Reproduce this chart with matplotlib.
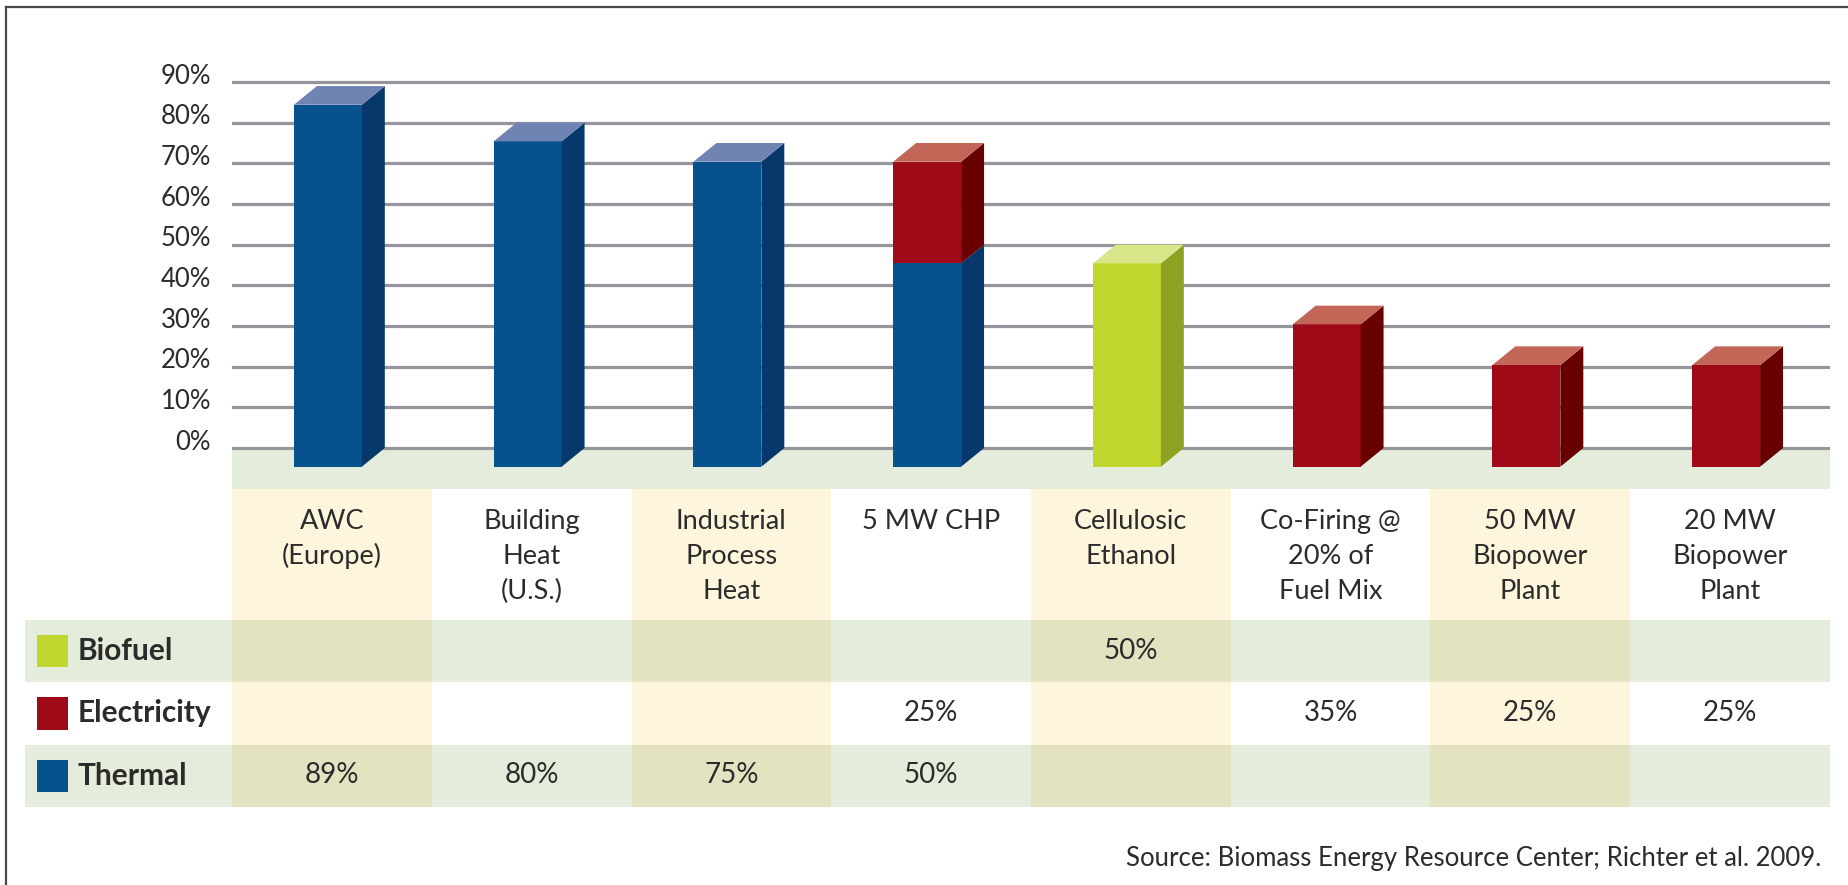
import matplotlib.pyplot as plt
from matplotlib.patches import Rectangle, Polygon

plt.rcParams['font.family'] = ['Lato', 'DejaVu Sans']

categories  = ['AWC\n(Europe)', 'Building\nHeat\n(U.S.)', 'Industrial\nProcess\nHeat', '5 MW CHP',
               'Cellulosic\nEthanol', 'Co-Firing @\n20% of\nFuel Mix', '50 MW\nBiopower\nPlant', '20 MW\nBiopower\nPlant']
thermal     = [89, 80, 75, 50, 0, 0, 0, 0]
electricity = [0, 0, 0, 25, 0, 35, 25, 25]
biofuel     = [0, 0, 0, 0, 50, 0, 0, 0]
yticks      = [0, 10, 20, 30, 40, 50, 60, 70, 80, 90]
source      = 'Source: Biomass Energy Resource Center; Richter et al. 2009.'

# colours: front, side, top
cores = {
    'Thermal'    : ('#07518f', '#07386b', '#7084b4'),
    'Electricity': ('#9e0a17', '#680000', '#c26757'),
    'Biofuel'    : ('#c1d62f', '#8da223', '#d9e589'),
}
series = [('Thermal', thermal), ('Electricity', electricity), ('Biofuel', biofuel)]

verde   = '#e4eddb'
amarelo = '#fdf5dc'
oliva   = '#e4e3c1'
texto   = '#2b2b2b'

W, H = 1849, 885
fig = plt.figure(figsize=(W/100, H/100), dpi=100, facecolor='white')

# ---------- bar chart ----------
px10 = (448 - 82) / 9.0          # pixels per 10 %
ytop = (448 - 60) / px10 * 10
ybot = (448 - 489) / px10 * 10
ax = fig.add_axes([232/W, 1 - 489/H, (1830-232)/W, (489-60)/H])
ax.set_xlim(-0.5, 7.5)
ax.set_ylim(ybot, ytop)
ax.axis('off')

for t in yticks:
    ax.axhline(t, color='#95959b', lw=2.3, zorder=1)
    ax.text(-0.013, t + 1.4, f'{t}%', transform=ax.get_yaxis_transform(),
            ha='right', va='center', fontsize=18.5, color=texto)
ax.axhspan(ybot, -0.3, color=verde, zorder=0.5, lw=0)

w, dx, dy = 0.34, 0.115, 4.6
for i in range(len(categories)):
    c = i - 0.02
    x0, x1 = c - w/2, c + w/2
    base = 0
    top_name = None
    for name, vals in series:
        v = vals[i]
        if v <= 0:
            continue
        front, side, _ = cores[name]
        ax.add_patch(Rectangle((x0, base - dy), w, v, facecolor=front, lw=0, zorder=3))
        ax.add_patch(Polygon([(x1, base - dy), (x1 + dx, base), (x1 + dx, base + v), (x1, base + v - dy)],
                             facecolor=side, lw=0, zorder=3))
        base += v
        top_name = name
    if top_name:
        ax.add_patch(Polygon([(x0, base - dy), (x1, base - dy), (x1 + dx, base), (x0 + dx, base)],
                             facecolor=cores[top_name][2], lw=0, zorder=3))

# ---------- table ----------
tb = fig.add_axes([25/W, 1 - 807/H, (1830-25)/W, (807-489)/H])
xleft = (25 - 232) / 199.75 - 0.5
tb.set_xlim(xleft, 7.5)
tb.set_ylim(5.1, 0)
tb.axis('off')

hh = 2.1   # header height in row units
linhas = [('Biofuel', biofuel, True), ('Electricity', electricity, False), ('Thermal', thermal, True)]

for j, cat in enumerate(categories):
    destaque = j % 2 == 0
    tb.add_patch(Rectangle((j - 0.5, 0), 1, hh, facecolor=amarelo if destaque else 'white', lw=0))
    for k, lin in enumerate(cat.split('\n')):
        tb.text(j, 0.64 + k * 0.56, lin, ha='center', va='baseline', fontsize=19.5, color=texto)

for r, (name, vals, green_row) in enumerate(linhas):
    y0 = hh + r
    tb.add_patch(Rectangle((xleft, y0), -0.5 - xleft, 1, facecolor=verde if green_row else 'white', lw=0))
    for j in range(len(categories)):
        destaque = j % 2 == 0
        if green_row:
            fc = oliva if destaque else verde
        else:
            fc = amarelo if destaque else 'white'
        tb.add_patch(Rectangle((j - 0.5, y0), 1, 1, facecolor=fc, lw=0))
        if vals[j] > 0:
            tb.text(j, y0 + 0.62, f'{vals[j]}%', ha='center', va='baseline', fontsize=20, color=texto)
    tb.add_patch(Rectangle((-1.476, y0 + 0.24), 0.155, 0.52, facecolor=cores[name][0], lw=0))
    tb.text(-1.271, y0 + 0.64, name, ha='left', va='baseline', fontsize=21.5,
            fontweight='bold', color=texto)

fig.text(1821/W, 1 - 866/H, source, ha='right', va='baseline', fontsize=18.5, color=texto)

# frame lines (top and left only)
fig.add_artist(plt.Line2D([6/W, 1], [1 - 7/H, 1 - 7/H], color='#4a4a4a', lw=1.6))
fig.add_artist(plt.Line2D([6/W, 6/W], [1 - 7/H, 0], color='#4a4a4a', lw=1.6))

fig.savefig('out.png', dpi=100, facecolor='white')
